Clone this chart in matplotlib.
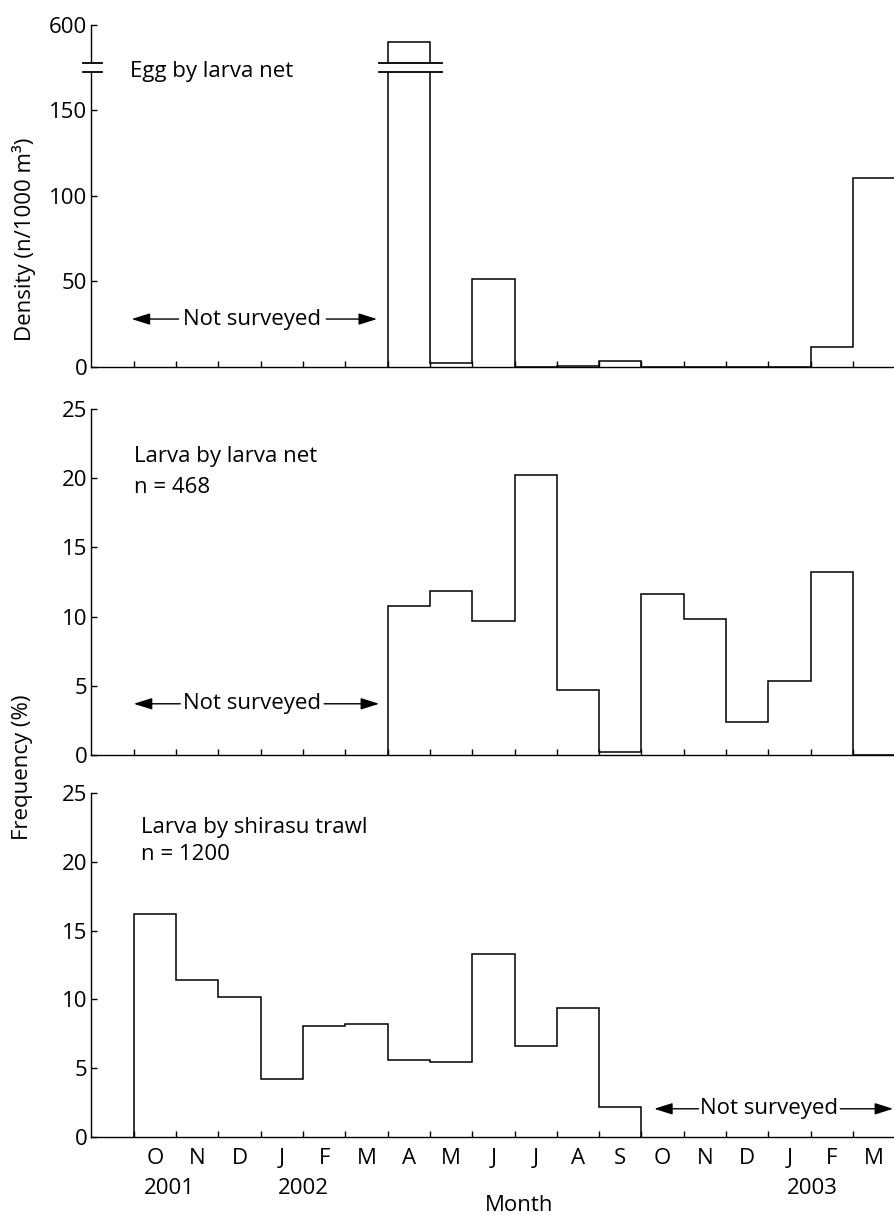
import numpy as np
import matplotlib.pyplot as plt
from matplotlib.transforms import blended_transform_factory

plt.rcParams['font.family'] = ['Open Sans', 'DejaVu Sans']
plt.rcParams['font.size'] = 16

# --- data (month index 0 = Oct 2001 ... 17 = Mar 2003) ---
month_labels = ["O", "N", "D", "J", "F", "M", "A", "M", "J", "J", "A", "S",
                "O", "N", "D", "J", "F", "M"]
year_labels = ["2001", "2002", "2003"]
year_pos = [0.85, 4.0, 16.05]

# egg density, surveyed from Apr 2002 (index 6) on
egg_start = 6
egg_density = [590, 2.5, 51.5, 0, 0.5, 3.2, 0, 0, 0, 0, 11.5, 110.5]

# larva by larva net (%), from Apr 2002 on
net_start = 6
larva_net = [10.8, 11.85, 9.7, 20.2, 4.7, 0.25, 11.6, 9.85, 2.35, 5.35, 13.25, 0]

# larva by shirasu trawl (%), Oct 2001 - Sep 2002
trawl_start = 0
larva_trawl = [16.2, 11.4, 10.2, 4.2, 8.05, 8.2, 5.6, 5.45, 13.3, 6.6, 9.35, 2.15]

# broken y axis for the egg panel
break_at = 175      # display value where the axis is broken
upper_shift = 400   # values above the break are drawn as v - upper_shift


def to_display(v):
    v = np.asarray(v, dtype=float)
    return np.where(v > break_at, v - upper_shift, v)


fig = plt.figure(figsize=(8.94, 12.15), dpi=100)
left, width = 0.1023, 0.8977
ax1 = fig.add_axes([left, 0.698, width, 0.2815])
ax2 = fig.add_axes([left, 0.3786, width, 0.2848])
ax3 = fig.add_axes([left, 0.0642, width, 0.2831])

xmin, xmax = -1.0, 17.97
for ax in (ax1, ax2, ax3):
    ax.set_xlim(xmin, xmax)
    ax.spines['top'].set_visible(False)
    ax.spines['right'].set_visible(False)
    ax.spines['left'].set_linewidth(1.0)
    ax.spines['bottom'].set_linewidth(1.0)
    ax.set_xticks(np.arange(0, 18))
    ax.tick_params(axis='both', direction='in', length=4, width=1.0, pad=3)
    ax.tick_params(axis='x', labelbottom=False)

# --- panel 1: eggs ---
edges = np.arange(egg_start, egg_start + len(egg_density) + 1)
ax1.stairs(to_display(egg_density), edges, baseline=0, fill=False,
           color='black', lw=1.1, zorder=3)
ax1.set_ylim(0, 200)
ax1.set_yticks([0, 50, 100, 150, 200])
ax1.set_yticklabels(["0", "50", "100", "150", "600"])

# break marks on the axis and on the April bar
gap = 2.6
for x0, x1 in [(xmin - 0.2, xmin + 0.24), (egg_start - 0.2, egg_start + 1.28)]:
    ax1.fill_between([x0 + 0.05, x1 - 0.05], break_at - gap, break_at + gap,
                     color='white', zorder=4, clip_on=False, lw=0)
    for yb in (break_at - gap, break_at + gap):
        ax1.plot([x0, x1], [yb, yb], color='black', lw=1.3, zorder=5,
                 clip_on=False)

ax1.text(-0.1, 173, "Egg by larva net", ha='left', va='center')

# --- panel 2: larva net ---
edges = np.arange(net_start, net_start + len(larva_net) + 1)
ax2.stairs(larva_net, edges, baseline=0, fill=False, color='black', lw=1.1)
ax2.set_ylim(0, 25)
ax2.set_yticks([0, 5, 10, 15, 20, 25])
ax2.text(0.0, 21.6, "Larva by larva net", ha='left', va='center')
ax2.text(0.0, 19.3, "n = 468", ha='left', va='center')

# --- panel 3: shirasu trawl ---
edges = np.arange(trawl_start, trawl_start + len(larva_trawl) + 1)
ax3.stairs(larva_trawl, edges, baseline=0, fill=False, color='black', lw=1.1)
ax3.set_ylim(0, 25)
ax3.set_yticks([0, 5, 10, 15, 20, 25])
ax3.text(0.18, 22.5, "Larva by shirasu trawl", ha='left', va='center')
ax3.text(0.18, 20.5, "n = 1200", ha='left', va='center')


# --- "Not surveyed" arrows ---
def not_surveyed(ax, x0, x1, xt0, xt1, y):
    ax.text((xt0 + xt1) / 2, y, "Not surveyed", ha='center', va='center')
    style = dict(arrowstyle='-|>,head_length=0.7,head_width=0.22',
                 color='black', lw=1.0, shrinkA=0, shrinkB=0)
    ax.annotate("", xy=(x0, y), xytext=(xt0 - 0.1, y), arrowprops=style,
                annotation_clip=False)
    ax.annotate("", xy=(x1, y), xytext=(xt1 + 0.1, y), arrowprops=style,
                annotation_clip=False)


not_surveyed(ax1, -0.05, 5.75, 1.16, 4.45, 28)
not_surveyed(ax2, 0.0, 5.8, 1.2, 4.4, 3.7)
not_surveyed(ax3, 12.3, 17.95, 13.45, 16.6, 2.05)

# --- month and year labels on bottom panel ---
ax3.set_xticks(np.arange(len(month_labels)) + 0.5, minor=True)
ax3.set_xticklabels(month_labels, minor=True)
ax3.tick_params(axis='x', which='minor', length=0, pad=8, labelbottom=True)
trans = blended_transform_factory(ax3.transData, ax3.transAxes)
for lab, xp in zip(year_labels, year_pos):
    ax3.annotate(lab, xy=(xp, 0), xycoords=trans, xytext=(0, -37),
                 textcoords='offset points', ha='center', va='center')
ax3.annotate("Month", xy=(9.1, 0), xycoords=trans, xytext=(0, -49),
             textcoords='offset points', ha='center', va='center')

fig.text(24 / 894, 1 - 239 / 1215, "Density (n/1000 m³)", rotation=90,
         ha='center', va='center')
fig.text(23 / 894, 1 - 767 / 1215, "Frequency (%)", rotation=90,
         ha='center', va='center')

fig.savefig("out.png", dpi=100)
